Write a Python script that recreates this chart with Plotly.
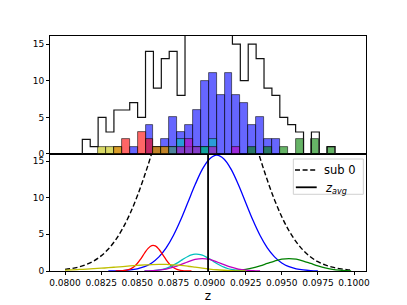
import numpy as np
import plotly.graph_objects as go

# ---------------- data ----------------
# histogram binning (32 equal bins)
BIN_LO = 0.081197
BIN_HI = 0.098693
N_BINS = 32

hist_all = [2, 1, 5, 3, 6, 6, 7, 5, 14, 9, 13, 14, 8, 20, 23, 27, 25, 22, 19,
            15, 10, 15, 13, 9, 8, 5, 4, 3, 0, 3, 0, 1]
hist_b = [0, 0, 0, 0, 0, 0, 1, 0, 4, 1, 2, 5, 3, 4, 6, 10, 11, 8, 11, 8, 7, 4, 5,
          2, 2, 0, 0, 0, 0, 0, 0, 0]
hist_g = [0, 0, 0, 0, 0, 0, 0, 0, 0, 0, 0, 0, 0, 0, 0, 1, 0, 0, 0, 0, 0, 1, 0, 1,
          0, 1, 0, 2, 0, 2, 0, 1]
hist_r = [0, 0, 0, 0, 1, 2, 0, 3, 2, 1, 1, 1, 0, 0, 0, 0, 0, 0, 0, 0, 0, 0, 0, 0,
          0, 0, 0, 0, 0, 0, 0, 0]
hist_c = [0, 0, 0, 0, 0, 0, 0, 0, 0, 0, 0, 1, 2, 1, 1, 1, 2, 0, 0, 0, 0, 0, 0, 0,
          0, 0, 0, 0, 0, 0, 0, 0]
hist_m = [0, 0, 0, 0, 0, 0, 0, 0, 0, 0, 0, 0, 1, 2, 1, 0, 1, 0, 0, 1, 0, 0, 0, 0,
          0, 0, 0, 0, 0, 0, 0, 0]
hist_y = [0, 0, 1, 1, 1, 0, 0, 0, 0, 1, 1, 0, 0, 0, 0, 0, 0, 0, 0, 0, 0, 0, 0, 0,
          0, 0, 0, 0, 0, 0, 0, 0]

sub0_z = [0.0800, 0.0805, 0.0810, 0.0815, 0.0820, 0.0825, 0.0830, 0.0835, 0.0840,
          0.0845, 0.0850, 0.0855, 0.0860, 0.0865, 0.0870, 0.0875, 0.0880, 0.0885,
          0.0890, 0.0895, 0.0900, 0.0905, 0.0910, 0.0915, 0.0920, 0.0925, 0.0930,
          0.0935, 0.0940, 0.0945, 0.0950, 0.0955, 0.0960, 0.0965, 0.0970, 0.0975,
          0.0980, 0.0985, 0.0990, 0.0995, 0.0998]
sub0_y = [0.21, 0.35, 0.57, 0.90, 1.38, 2.06, 3.00, 4.24, 5.84, 7.83, 10.22, 12.98,
          16.05, 19.33, 22.6, 25.8, 28.7, 31.0, 32.6, 33.4, 33.3, 32.4, 30.6, 28.1,
          25.2, 22.0, 18.7, 15.4, 12.4, 9.7, 7.40, 5.49, 3.97, 2.79, 1.91, 1.27,
          0.83, 0.52, 0.32, 0.19, 0.14]

blue_z = [0.0830, 0.0835, 0.0840, 0.0845, 0.0850, 0.0855, 0.0860, 0.0865, 0.0870,
          0.0875, 0.0880, 0.0885, 0.0890, 0.0895, 0.0900, 0.0905, 0.0910, 0.0915,
          0.0920, 0.0925, 0.0930, 0.0935, 0.0940, 0.0945, 0.0950, 0.0955, 0.0960,
          0.0965, 0.0970, 0.0975]
blue_y = [0.01, 0.03, 0.06, 0.14, 0.30, 0.59, 1.10, 1.93, 3.16, 4.84, 6.95, 9.34,
          11.75, 13.86, 15.29, 15.8, 15.29, 13.86, 11.75, 9.34, 6.95, 4.84, 3.16,
          1.93, 1.10, 0.59, 0.30, 0.14, 0.06, 0.02]

green_z = [0.0910, 0.0915, 0.0920, 0.0925, 0.0930, 0.0935, 0.0940, 0.0945, 0.0950,
           0.0955, 0.0960, 0.0965, 0.0970, 0.0975, 0.0980, 0.0985, 0.0990, 0.0995,
           0.0998]
green_y = [0.02, 0.05, 0.11, 0.23, 0.42, 0.70, 1.03, 1.36, 1.61, 1.70, 1.61, 1.36,
           1.03, 0.70, 0.42, 0.23, 0.11, 0.05, 0.03]

red_z = [0.08350, 0.08375, 0.08400, 0.08425, 0.08450, 0.08475, 0.08500, 0.08525,
         0.08550, 0.08575, 0.08600, 0.08625, 0.08650, 0.08675, 0.08700, 0.08725,
         0.08750, 0.08775, 0.08800, 0.08825, 0.08850, 0.08875]
red_y = [0.00, 0.01, 0.04, 0.11, 0.26, 0.54, 1.02, 1.67, 2.42, 3.09, 3.46, 3.42,
         2.97, 2.27, 1.53, 0.91, 0.47, 0.22, 0.09, 0.03, 0.01, 0.00]

cyan_z = [0.08550, 0.08575, 0.08600, 0.08625, 0.08650, 0.08675, 0.08700, 0.08725,
          0.08750, 0.08775, 0.08800, 0.08825, 0.08850, 0.08875, 0.08900, 0.08925,
          0.08950, 0.08975, 0.09000, 0.09025, 0.09050, 0.09075, 0.09100, 0.09125,
          0.09150, 0.09175, 0.09200, 0.09225, 0.09250]
cyan_y = [0.01, 0.02, 0.04, 0.08, 0.14, 0.23, 0.37, 0.56, 0.80, 1.08, 1.39, 1.71,
          1.98, 2.19, 2.29, 2.28, 2.15, 1.93, 1.65, 1.33, 1.02, 0.75, 0.52, 0.34,
          0.21, 0.13, 0.07, 0.04, 0.02]

magenta_z = [0.0855, 0.0860, 0.0865, 0.0870, 0.0875, 0.0880, 0.0885, 0.0890, 0.0895,
             0.0900, 0.0905, 0.0910, 0.0915, 0.0920, 0.0925, 0.0930, 0.0935]
magenta_y = [0.01, 0.05, 0.12, 0.27, 0.52, 0.87, 1.26, 1.58, 1.70, 1.58, 1.26, 0.87,
             0.52, 0.27, 0.12, 0.05, 0.01]

yellow_z = [0.0800, 0.0805, 0.0810, 0.0815, 0.0820, 0.0825, 0.0830, 0.0835, 0.0840,
            0.0845, 0.0850, 0.0855, 0.0860, 0.0865, 0.0870, 0.0875, 0.0880, 0.0885,
            0.0890, 0.0895, 0.0900, 0.0905, 0.0910, 0.0915, 0.0920, 0.0925]
yellow_y = [0.12, 0.16, 0.21, 0.26, 0.32, 0.38, 0.45, 0.53, 0.61, 0.69, 0.76, 0.83,
            0.88, 0.90, 0.89, 0.84, 0.76, 0.65, 0.52, 0.39, 0.27, 0.17, 0.10, 0.05,
            0.02, 0.01]

Z_AVG = 0.0899

X_TICKS = [0.0800, 0.0825, 0.0850, 0.0875, 0.0900, 0.0925, 0.0950, 0.0975, 0.1000]
Y_TICKS = [0, 5, 10, 15]
LEGEND_LABELS = ["sub 0", "<i>z</i><sub><i>avg</i></sub>"]

# ---------------- styles ----------------
COL = {"b": "#0000ff", "g": "#008000", "r": "#ff0000",
       "c": "#00bfbf", "m": "#bf00bf", "y": "#bfbf00"}
FILL = {"b": "rgba(0,0,255,0.6)", "g": "rgba(0,128,0,0.6)", "r": "rgba(255,0,0,0.6)",
        "c": "rgba(0,191,191,0.6)", "m": "rgba(191,0,191,0.6)", "y": "rgba(191,191,0,0.6)"}
FONT = "DejaVu Sans, Arial, sans-serif"
XR = [0.07896, 0.10083]
SPLIT = 0.4979
DASH = "5px,2.6px"

edges = np.linspace(BIN_LO, BIN_HI, N_BINS + 1)
centers = (edges[:-1] + edges[1:]) / 2
bw = edges[1] - edges[0]

fig = go.Figure()

# upper panel: coloured histograms (overlaid, drawn in b g r c m y order)
for key, counts in [("b", hist_b), ("g", hist_g), ("r", hist_r),
                    ("c", hist_c), ("m", hist_m), ("y", hist_y)]:
    fig.add_trace(go.Bar(
        x=centers, y=[v if v > 0 else None for v in counts], width=bw,
        marker=dict(color=FILL[key], line=dict(color="rgba(0,0,0,0.7)", width=0.8)),
        xaxis="x2", yaxis="y2", showlegend=False, hoverinfo="skip"))

# upper panel: overall step histogram
step_x = [edges[0]] + list(edges[:-1]) + [edges[-1], edges[-1]]
step_y = [0] + hist_all + [hist_all[-1], 0]
fig.add_trace(go.Scatter(
    x=step_x, y=step_y, mode="lines", line=dict(color="#111111", width=1.2, shape="hv"),
    xaxis="x2", yaxis="y2", showlegend=False, hoverinfo="skip"))

# lower panel
fig.add_trace(go.Scatter(
    x=sub0_z, y=sub0_y, mode="lines", name=LEGEND_LABELS[0],
    line=dict(color="black", width=1.4, dash=DASH, shape="spline"),
    xaxis="x", yaxis="y", showlegend=False))
for key, zz, yy in [("b", blue_z, blue_y), ("g", green_z, green_y), ("r", red_z, red_y),
                    ("c", cyan_z, cyan_y), ("m", magenta_z, magenta_y),
                    ("y", yellow_z, yellow_y)]:
    fig.add_trace(go.Scatter(
        x=zz, y=yy, mode="lines", line=dict(color=COL[key], width=1.3, shape="spline"),
        xaxis="x", yaxis="y", showlegend=False, hoverinfo="skip"))
fig.add_trace(go.Scatter(
    x=[Z_AVG, Z_AVG], y=[0, 17], mode="lines", name=LEGEND_LABELS[1],
    line=dict(color="black", width=1.8), xaxis="x", yaxis="y", showlegend=False))

# legend drawn as box + line samples + text annotations (paper coords)
shapes = [
    dict(type="rect", xref="paper", yref="paper", x0=0.770, x1=0.9915, y0=0.3264,
         y1=0.4766, line=dict(color="#d0d0d0", width=1), fillcolor="rgba(255,255,255,0.85)",
         layer="above"),
    dict(type="line", xref="paper", yref="paper", x0=0.7753, x1=0.844, y0=0.4298,
         y1=0.4298, line=dict(color="black", width=1.4, dash=DASH), layer="above"),
    dict(type="line", xref="paper", yref="paper", x0=0.7780, x1=0.844, y0=0.3562,
         y1=0.3562, line=dict(color="black", width=1.8), layer="above"),
]
annotations = [
    dict(text=LEGEND_LABELS[0], xref="paper", yref="paper", x=0.862, y=0.4298,
         xanchor="left", yanchor="middle", showarrow=False,
         font=dict(family=FONT, size=11.5, color="black")),
    dict(text=LEGEND_LABELS[1], xref="paper", yref="paper", x=0.864, y=0.352,
         xanchor="left", yanchor="middle", showarrow=False,
         font=dict(family=FONT, size=11.5, color="black")),
]

axis_common = dict(showline=True, linecolor="black", linewidth=1, mirror=True,
                   showgrid=False, zeroline=False, ticks="outside", ticklen=3,
                   tickwidth=0.8, tickcolor="black",
                   tickfont=dict(family=FONT, size=9, color="black"))

# the page body has an 8px margin, so margins are shifted accordingly
fig.update_layout(
    width=407, height=305,
    margin=dict(l=42, r=49, t=28, b=42),
    paper_bgcolor="white", plot_bgcolor="white",
    barmode="overlay", bargap=0,
    font=dict(family=FONT, color="black"),
    xaxis=dict(domain=[0, 1], anchor="y", range=XR, tickvals=X_TICKS,
               ticktext=["%.4f" % v for v in X_TICKS],
               title=dict(text="z", font=dict(family=FONT, size=12), standoff=4),
               **axis_common),
    yaxis=dict(domain=[0, SPLIT], anchor="x", range=[0, 15.96], tickvals=Y_TICKS,
               **axis_common),
    xaxis2=dict(domain=[0, 1], anchor="y2", range=XR, matches="x",
                showticklabels=False, **{k: v for k, v in axis_common.items()
                                         if k not in ("ticks",)}, ticks=""),
    yaxis2=dict(domain=[SPLIT, 1], anchor="x2", range=[0, 16.1], tickvals=Y_TICKS,
                **axis_common),
    shapes=shapes,
    annotations=annotations,
    showlegend=False,
)

fig.write_html("out.html")
